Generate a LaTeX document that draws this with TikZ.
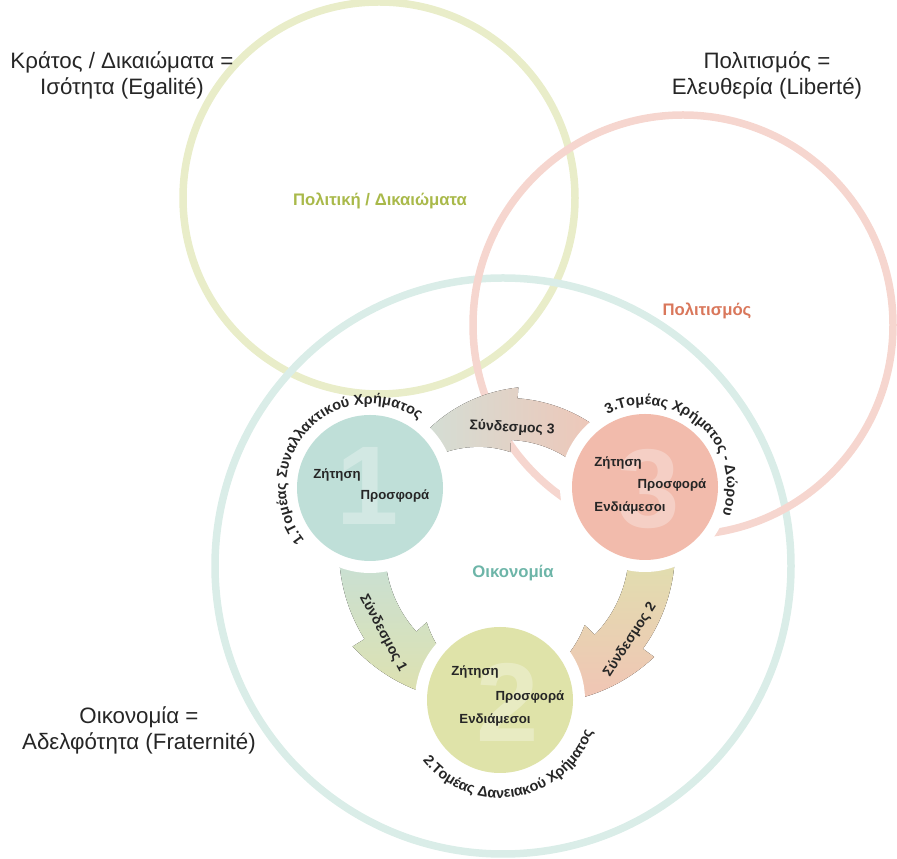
\documentclass[tikz,border=0pt]{standalone}
\usepackage{fontspec}
\setmainfont{Liberation Sans}
\usetikzlibrary{decorations.text,calc}
\definecolor{ringG}{HTML}{E9EDC9}
\definecolor{ringP}{HTML}{F6D6CF}
\definecolor{ringT}{HTML}{DAEDE8}
\definecolor{nodeT}{HTML}{BFDFD8}
\definecolor{nodeG}{HTML}{DFE3A9}
\definecolor{nodeP}{HTML}{F2BBAC}
\definecolor{labG}{HTML}{A9B94A}
\definecolor{labP}{HTML}{D9775B}
\definecolor{labT}{HTML}{6DB5A8}
\definecolor{txt}{HTML}{262626}
\definecolor{aTeal}{HTML}{C6E0D8}
\definecolor{aYel}{HTML}{DFE1AE}
\definecolor{aPink}{HTML}{F1C4B5}
\definecolor{aGrey}{HTML}{CFE2DA}
\begin{document}
\begin{tikzpicture}[x=1pt,y=1pt,
  ring/.style={line width=7.5pt},
  sector/.style={circle, minimum size=146pt, inner sep=0pt},
  gapdisc/.style={circle, fill=white, minimum size=170pt, inner sep=0pt},
  inlabel/.style={font=\bfseries\fontsize{13.2}{15}\selectfont, text=txt, inner sep=0pt},
  biglabel/.style={font=\bfseries\fontsize{16.7}{18}\selectfont, inner sep=0pt},
  cornertext/.style={font=\fontsize{22.3}{26}\selectfont, align=center, text=black!85, inner sep=0pt},
  digit/.style={font=\bfseries\fontsize{112}{112}\selectfont, text=white, text opacity=0.3, inner sep=0pt},
  linklabel/.style={font=\bfseries\fontsize{14}{16}\selectfont, text=txt, inner sep=0pt},
  arcA/.style={top color=aTeal, bottom color=aYel},
  arcB/.style={top color=aYel, bottom color=aPink},
  arcC/.style={left color=aGrey, right color=aPink},
]
\useasboundingbox (0,0) rectangle (897,859);

% big rings
\coordinate (cG) at (379,661);
\coordinate (cP) at (683,534);
\coordinate (cT) at (503,293);
\draw[ring, ringG] (cG) circle[radius=196];
\draw[ring, ringT] (cT) circle[radius=288];
\draw[ring, ringP] (cP) circle[radius=210];

% curved arrows
\coordinate (O) at (507,309);
\begin{scope}[shift={(O)}]
\fill[arcA] (178:168) arc[start angle=178,end angle=212,radius=168] -- (212:182)
  -- plot[domain=212:268,samples=25] (\x:{182-34*(\x-212)/56})
  -- plot[domain=268:222,samples=25] (\x:{148-40*(268-\x)/46})
  -- (222:122) arc[start angle=222,end angle=178,radius=122] -- cycle;
\fill[arcB] (2:168) arc[start angle=2,end angle=-36,radius=168] -- (-36:182)
  -- plot[domain=-36:-92,samples=25] (\x:{182-34*(-36-\x)/56})
  -- plot[domain=-92:-44,samples=25] (\x:{148-40*(\x+92)/48})
  -- (-44:122) arc[start angle=-44,end angle=2,radius=122] -- cycle;
\fill[arcC] (45:152) arc[start angle=45,end angle=86,radius=152] -- (86:163)
  -- plot[domain=86:150,samples=25] (\x:{163-33*(\x-86)/64})
  -- plot[domain=150:88,samples=25] (\x:{130-32*(150-\x)/62})
  -- (88:110) arc[start angle=88,end angle=45,radius=110] -- cycle;
\end{scope}

% white gaps and sector circles
\node[gapdisc] at (370,371) {};
\node[gapdisc] at (500,159) {};
\node[gapdisc] at (645,372) {};
\node[sector, fill=nodeT] (n1) at (370,371) {};
\node[sector, fill=nodeG] (n2) at (500,159) {};
\node[sector, fill=nodeP] (n3) at (645,372) {};
\node[digit] at ($(n1)+(-2,2)$) {1};
\node[digit] at ($(n2)+(8,-2)$) {2};
\node[digit] at ($(n3)+(4,-2)$) {3};

% texts inside sectors
\node[inlabel] at (337,384) {Ζήτηση};
\node[inlabel] at (395,363) {Προσφορά};
\node[inlabel] at (475,187) {Ζήτηση};
\node[inlabel] at (530,162) {Προσφορά};
\node[inlabel] at (495,139) {Ενδιάμεσοι};
\node[inlabel] at (618,396) {Ζήτηση};
\node[inlabel] at (672,374) {Προσφορά};
\node[inlabel] at (630,351) {Ενδιάμεσοι};

% curved sector titles
\path[decorate, decoration={text along path, text align=center,
  text={|\bfseries\fontsize{14.5}{16}\selectfont\color{txt}|1.Τομέας Συναλλακτικού Χρήματος}}]
  ($(n1)+(240:84)$) arc[start angle=240,end angle=33,radius=84];
\path[decorate, decoration={text along path, text align=center,
  text={|\bfseries\fontsize{14.5}{16}\selectfont\color{txt}|2.Τομέας Δανειακού Χρήματος}}]
  ($(n2)+(190:98)$) arc[start angle=190,end angle=369,radius=98];
\path[decorate, decoration={text along path, text align=center,
  text={|\bfseries\fontsize{14.5}{16}\selectfont\color{txt}|3.Τομέας Χρήματος - Δώρου}}]
  ($(n3)+(150:82)$) arc[start angle=150,end angle=-52,radius=82];

% link labels
\node[linklabel, rotate=-3] (l3) at (512,431) {Σύνδεσμος 3};
\node[linklabel, rotate=-62] (l1) at (383,226) {Σύνδεσμος 1};
\node[linklabel, rotate=57] (l2) at (630,219) {Σύνδεσμος 2};

% ring labels
\node[biglabel, text=labG] (tG) at (380,658) {Πολιτική / Δικαιώματα};
\node[biglabel, text=labP] (tP) at (707,548) {Πολιτισμός};
\node[biglabel, text=labT] (tT) at (513,286) {Οικονομία};

% corner texts
\node[cornertext] (tl) at (122,784) {Κράτος / Δικαιώματα =\\Ισότητα (Egalité)};
\node[cornertext] (tr) at (767,784) {Πολιτισμός =\\Ελευθερία (Liberté)};
\node[cornertext] (bl) at (139,129) {Οικονομία =\\Αδελφότητα (Fraternité)};
\end{tikzpicture}
\end{document}
